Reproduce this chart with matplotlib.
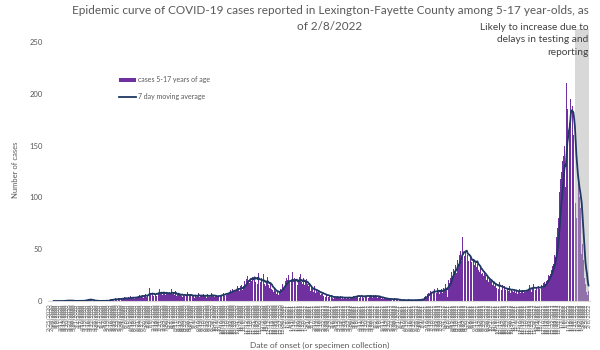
import matplotlib
matplotlib.use("Agg")
import matplotlib.pyplot as plt
from matplotlib.patches import Patch
from matplotlib.lines import Line2D
import pandas as pd

# ─── DATA (daily cases, 5-17 year-olds) ───────────────────────
feb20 = [0, 0, 0, 0, 0]
mar20 = [0, 0, 0, 0, 0, 0, 0, 0, 0, 0, 0, 0, 0, 0, 0, 1, 0, 0, 1, 0,
         1, 0, 1, 0, 0, 1, 0, 0, 0, 0, 0]
apr20 = [0, 0, 1, 0, 0, 0, 0, 0, 1, 0, 0, 1, 0, 2, 1, 1, 2, 1, 2, 1,
         1, 0, 1, 0, 0, 0, 1, 0, 0, 0]
may20 = [0, 0, 0, 0, 1, 0, 0, 0, 0, 0, 1, 0, 1, 0, 1, 2, 1, 2, 1, 1,
         2, 1, 3, 2, 1, 2, 3, 2, 1, 2, 3]
jun20 = [2, 3, 2, 4, 3, 2, 1, 3, 4, 2, 3, 5, 2, 3, 4, 3, 2, 4, 5, 3,
         4, 5, 3, 6, 4, 5, 7, 4, 3, 6]
jul20 = [5, 7, 4, 6, 8, 5, 13, 6, 4, 7, 8, 5, 6, 9, 7, 5, 10, 6, 8, 12,
         7, 5, 9, 6, 8, 11, 7, 6, 9, 5, 8]
aug20 = [7, 9, 6, 8, 12, 7, 5, 8, 6, 10, 7, 5, 6, 8, 4, 6, 7, 5, 8, 4,
         6, 5, 7, 4, 6, 9, 5, 4, 6, 5, 7]
sep20 = [4, 6, 5, 3, 7, 5, 4, 6, 5, 8, 4, 5, 3, 6, 5, 7, 4, 5, 6, 3,
         5, 7, 4, 5, 6, 4, 8, 5, 4, 6]
oct20 = [4, 5, 3, 6, 4, 5, 7, 4, 6, 5, 7, 6, 8, 5, 7, 9, 6, 8, 7, 10,
         8, 11, 9, 7, 12, 10, 9, 13, 11, 10, 14]
nov20 = [11, 13, 10, 14, 12, 15, 11, 14, 16, 19, 15, 21, 18, 24, 20, 17, 28, 21, 19, 23,
         17, 30, 22, 18, 25, 20, 16, 27, 19, 21]
dec20 = [18, 22, 15, 19, 26, 16, 14, 20, 17, 23, 15, 18, 13, 16, 12, 14, 11, 9, 12, 8,
         10, 7, 9, 11, 6, 8, 12, 14, 10, 16, 13]
jan21 = [17, 14, 19, 22, 16, 20, 25, 18, 15, 21, 19, 28, 17, 16, 22, 20, 18, 24, 15, 19,
         23, 17, 26, 18, 16, 20, 22, 15, 19, 17, 21]
feb21 = [16, 14, 12, 15, 10, 13, 11, 12, 9, 14, 10, 8, 11, 9, 7, 10, 8, 6, 9, 7,
         8, 5, 7, 6, 4, 6, 5, 7]
mar21 = [4, 5, 3, 4, 6, 3, 2, 5, 4, 3, 4, 2, 5, 3, 4, 3, 5, 2, 4, 3,
         2, 4, 3, 5, 2, 3, 4, 3, 2, 4, 3]
apr21 = [4, 3, 5, 4, 6, 3, 5, 4, 7, 5, 3, 4, 6, 5, 4, 3, 5, 6, 4, 5,
         7, 4, 3, 5, 6, 4, 5, 3, 6, 4]
may21 = [5, 6, 4, 5, 3, 4, 5, 3, 4, 2, 3, 4, 2, 3, 2, 1, 3, 2, 2, 1,
         3, 2, 1, 2, 2, 1, 3, 2, 1, 2, 1]
jun21 = [1, 0, 2, 1, 1, 0, 1, 2, 0, 1, 1, 0, 1, 1, 2, 0, 1, 0, 1, 1,
         0, 2, 1, 1, 0, 1, 1, 2, 1, 1]
jul21 = [1, 2, 1, 3, 2, 4, 5, 6, 4, 7, 8, 6, 9, 10, 7, 11, 8, 9, 12, 7,
         10, 8, 13, 9, 11, 7, 10, 12, 9, 8, 13]
aug21 = [11, 14, 16, 13, 4, 18, 20, 17, 22, 25, 28, 24, 31, 33, 29, 35, 27, 38, 40, 36,
         44, 42, 48, 39, 62, 45, 50, 43, 47, 52, 41]
sep21 = [44, 39, 48, 36, 42, 38, 30, 45, 40, 35, 38, 41, 33, 36, 30, 34, 28, 32, 26, 31,
         27, 24, 29, 22, 25, 20, 23, 21, 18, 22]
oct21 = [19, 17, 20, 15, 18, 16, 14, 17, 13, 16, 15, 12, 18, 14, 13, 11, 15, 12, 10, 14,
         11, 13, 9, 12, 10, 14, 11, 8, 12, 10, 11]
nov21 = [9, 12, 8, 10, 11, 7, 10, 9, 12, 8, 10, 9, 11, 8, 10, 12, 9, 11, 10, 13,
         12, 15, 11, 14, 9, 13, 16, 12, 14, 11]
dec21 = [13, 11, 15, 14, 12, 16, 10, 15, 13, 17, 14, 18, 16, 19, 22, 20, 25, 24, 28, 26,
         30, 34, 38, 36, 44, 42, 55, 62, 70, 80, 92]
jan22 = [105, 118, 125, 112, 135, 140, 150, 140, 110, 210, 185, 170, 182, 172, 195, 175, 202, 188, 160, 140,
         120, 95, 80, 135, 125, 115, 100, 90, 55, 45, 55]
feb22 = [40, 30, 22, 16, 9, 12, 6, 10]

start_date = "2020-02-25"
delay_start = "2022-01-22"   # shaded "likely to increase" window

cases = (feb20 + mar20 + apr20 + may20 + jun20 + jul20 + aug20 + sep20 + oct20 + nov20 + dec20
         + jan21 + feb21 + mar21 + apr21 + may21 + jun21 + jul21 + aug21 + sep21 + oct21 + nov21 + dec21
         + jan22 + feb22)

df = pd.DataFrame({"cases": cases},
                  index=pd.date_range(start_date, periods=len(cases), freq="D"))
df["ma7"] = df["cases"].rolling(7).mean()
x = list(range(len(df)))
labels = [f"{d.month}/{d.day}/{d.year}" for d in df.index]

# ─── COLOURS ──────────────────────────────────────────────────
PURPLE = "#7030a0"
NAVY = "#1f3864"
GREY_TXT = "#595959"

plt.rcParams["font.family"] = ["Lato", "DejaVu Sans"]

fig = plt.figure(figsize=(6, 3.5), dpi=100)
ax = fig.add_axes([48 / 600, 1 - 301 / 350, 542 / 600, 259 / 350])

ax.bar(x, df["cases"], width=0.9, color=PURPLE, linewidth=0, zorder=2)
ax.plot(x, df["ma7"], color=NAVY, linewidth=1.3, zorder=4)

d0 = df.index.get_loc(pd.Timestamp(delay_start))
ax.axvspan(d0 - 0.5, len(df) - 0.5, ymin=0, ymax=1.05, color="#b3b3b3",
           alpha=0.5, linewidth=0, zorder=3, clip_on=False)

ax.set_xlim(-1.5, len(df) + 1)
ax.set_ylim(0, 250)
ax.set_yticks([0, 50, 100, 150, 200, 250])
ax.tick_params(axis="y", length=0, labelsize=5.5, labelcolor=GREY_TXT, pad=4)
ax.set_xticks(x[::3])
ax.set_xticklabels(labels[::3], rotation=90, fontsize=4, color=GREY_TXT)
ax.tick_params(axis="x", length=0, pad=2)

for s in ["top", "right", "left"]:
    ax.spines[s].set_visible(False)
ax.spines["bottom"].set_color("#d9d9d9")
ax.spines["bottom"].set_linewidth(0.8)

# ─── TEXTS ────────────────────────────────────────────────────
fig.text(330 / 600, 1 - 11 / 350,
         "Epidemic curve of COVID-19 cases reported in Lexington-Fayette County among 5-17 year-olds, as",
         ha="center", va="center", fontsize=8.5, color=GREY_TXT)
fig.text(330 / 600, 1 - 26 / 350, "of 2/8/2022",
         ha="center", va="center", fontsize=8.5, color=GREY_TXT)

fig.text(588 / 600, 1 - 23 / 350, "Likely to increase due to\ndelays in testing and\nreporting",
         ha="right", va="top", fontsize=7.3, color="#404040", linespacing=1.5)

fig.text(15 / 600, 1 - 170 / 350, "Number of cases", rotation=90,
         ha="center", va="center", fontsize=5.5, color=GREY_TXT)
fig.text(320 / 600, 1 - 345 / 350, "Date of onset (or specimen collection)",
         ha="center", va="center", fontsize=6, color=GREY_TXT)

handles = [Patch(facecolor=PURPLE, edgecolor="none"),
           Line2D([0], [0], color=NAVY, linewidth=1.3)]
ax.legend(handles, ["cases 5-17 years of age", "7 day moving average"],
          loc="upper left", bbox_to_anchor=(113 / 600, 1 - 70 / 350),
          bbox_transform=fig.transFigure, frameon=False, fontsize=5,
          labelcolor=GREY_TXT, handlelength=2.4, handleheight=0.6,
          handletextpad=0.3, labelspacing=1.4)

fig.savefig("out.png", dpi=100)
